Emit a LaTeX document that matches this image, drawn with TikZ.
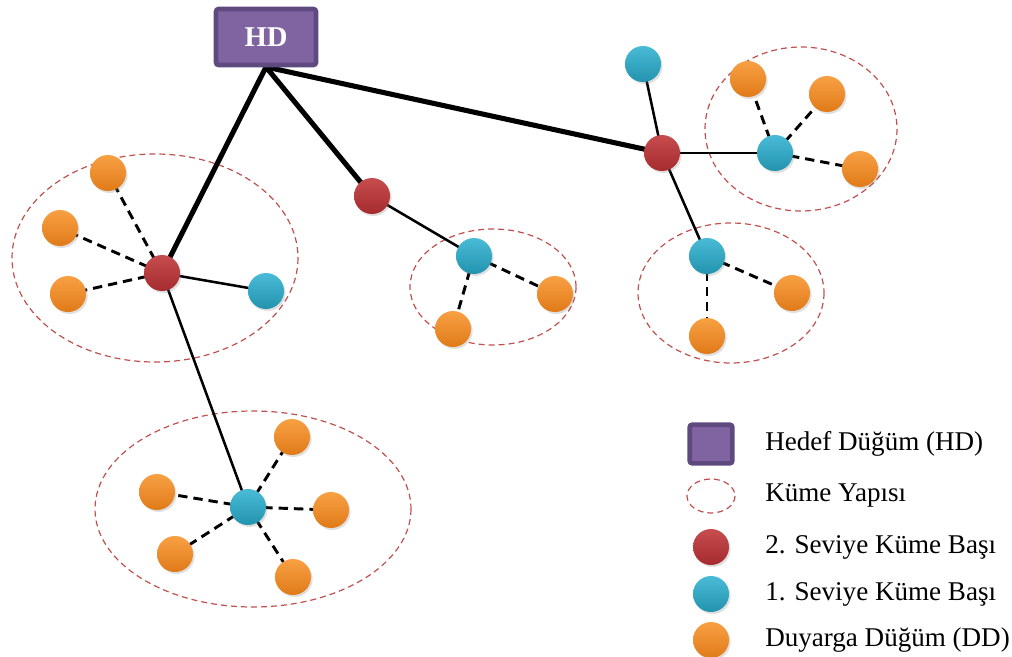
\documentclass[tikz,border=0pt]{standalone}
\usepackage{fontspec}
\setmainfont{Liberation Serif}
\newfontfamily\legfont{Liberation Serif}
\usetikzlibrary{shadows}
\definecolor{redn}{HTML}{C0393B}
\definecolor{rednd}{HTML}{A52B2E}
\definecolor{bluen}{HTML}{35B4D2}
\definecolor{bluend}{HTML}{2393AE}
\definecolor{orn}{HTML}{F7962F}
\definecolor{ornd}{HTML}{E07A18}
\definecolor{purf}{HTML}{8064A2}
\definecolor{purd}{HTML}{5F4A80}
\definecolor{ell}{HTML}{C0504D}
\tikzset{
  dot/.style={circle, minimum size=27, inner sep=0pt, draw=none, drop shadow={shadow xshift=1.2pt, shadow yshift=-1.5pt, opacity=0.25}},
  rednode/.style={dot, top color=redn!90!white, bottom color=rednd},
  bluenode/.style={dot, top color=bluen!90!white, bottom color=bluend},
  ornode/.style={dot, top color=orn!90!white, bottom color=ornd},
  hdbox/.style={rectangle, rounded corners=2pt, fill=purf, draw=purd, line width=3.5pt, inner sep=0pt},
  cluster/.style={draw=ell, dashed, dash pattern=on 4.5pt off 3pt, line width=0.9pt},
  trunk/.style={line width=3.8pt, black},
  link/.style={line width=1.9pt, black},
  dlink/.style={line width=2.2pt, black, dash pattern=on 7pt off 4.5pt},
  legtext/.style={anchor=west, inner sep=0pt, font=\legfont\fontsize{20.3}{24}\selectfont}
}
\begin{document}
\begin{tikzpicture}[x=0.75pt,y=-0.75pt]
\useasboundingbox (0,0) rectangle (1012,656);
% clusters
\draw[cluster] (155,258) ellipse [x radius=143, y radius=104];
\draw[cluster] (493,287) ellipse [x radius=83, y radius=58];
\draw[cluster] (801,129) ellipse [x radius=96, y radius=82];
\draw[cluster] (731,293) ellipse [x radius=93, y radius=70];
\draw[cluster] (253,509) ellipse [x radius=158, y radius=98];
% node coordinates
\coordinate (cHD) at (266,67);
\coordinate (cR1) at (162,273);
\coordinate (cR2) at (372,196);
\coordinate (cR3) at (662,153);
\coordinate (cB1) at (266,291);
\coordinate (cB2) at (474,256);
\coordinate (cB3) at (643,64);
\coordinate (cB4) at (775,153);
\coordinate (cB5) at (707,256);
\coordinate (cB6) at (248,507);
\coordinate (cO1) at (108,173);
\coordinate (cO2) at (60,228);
\coordinate (cO3) at (68,294);
\coordinate (cO4) at (555,294);
\coordinate (cO5) at (453,329);
\coordinate (cO6) at (748,79);
\coordinate (cO7) at (827,94);
\coordinate (cO8) at (860,169);
\coordinate (cO9) at (792,293);
\coordinate (cO10) at (707,336);
\coordinate (cO11) at (292,437);
\coordinate (cO12) at (157,492);
\coordinate (cO13) at (331,510);
\coordinate (cO14) at (175,554);
\coordinate (cO15) at (293,577);
% connectors
\draw[trunk] (cHD) -- (cR1);
\draw[trunk] (cHD) -- (cR2);
\draw[trunk] (cHD) -- (cR3);
\draw[link] (cR1) -- (cB1);
\draw[link] (cR1) -- (cB6);
\draw[link] (cR2) -- (cB2);
\draw[link] (cR3) -- (cB3);
\draw[link] (cR3) -- (cB4);
\draw[link] (cR3) -- (cB5);
\foreach \o in {cO1,cO2,cO3} \draw[dlink] (cR1) -- (\o);
\foreach \o in {cO4,cO5} \draw[dlink] (cB2) -- (\o);
\foreach \o in {cO6,cO7,cO8} \draw[dlink] (cB4) -- (\o);
\foreach \o in {cO9,cO10} \draw[dlink] (cB5) -- (\o);
\foreach \o in {cO11,cO12,cO13,cO14,cO15} \draw[dlink] (cB6) -- (\o);
% nodes
\node[hdbox, minimum width=75pt, minimum height=42pt, text=white, font=\legfont\fontsize{21.5}{24}\selectfont\bfseries] (HD) at (266,37) {HD};
\foreach \n in {R1,R2,R3} \node[rednode] (\n) at (c\n) {};
\foreach \n in {B1,B2,B3,B4,B5,B6} \node[bluenode] (\n) at (c\n) {};
\foreach \n in {O1,O2,O3,O4,O5,O6,O7,O8,O9,O10,O11,O12,O13,O14,O15} \node[ornode] (\n) at (c\n) {};
% legend
\node[hdbox, minimum width=32pt, minimum height=29pt] (L1) at (711,444) {};
\draw[cluster] (711,496) ellipse [x radius=24, y radius=17];
\node[rednode] (L3) at (711,547) {};
\node[bluenode] (L4) at (711,594) {};
\node[ornode] (L5) at (711,640) {};
\node[legtext] (T1) at (765,444) {Hedef Düğüm (HD)};
\node[legtext] (T2) at (765,496) {Küme Yapısı};
\node[legtext] (T3) at (765,547) {2. Seviye Küme Başı};
\node[legtext] (T4) at (765,594) {1. Seviye Küme Başı};
\node[legtext] (T5) at (765,640) {Duyarga Düğüm (DD)};
\end{tikzpicture}
\end{document}
